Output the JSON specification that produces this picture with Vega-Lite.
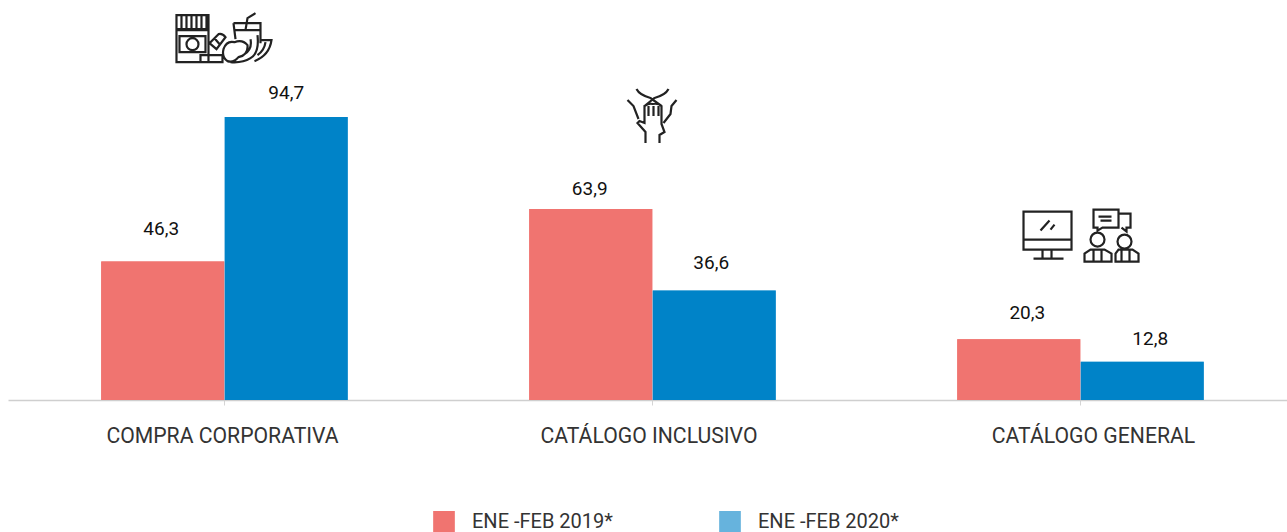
{"$schema":"https://vega.github.io/schema/vega-lite/v6.json","width":1279,"height":400,"autosize":"none","padding":{"left":8,"top":0,"right":0,"bottom":132},"background":"white","config":{"view":{"stroke":null},"font":"Roboto"},"datasets":{"barras":[{"categoria":"COMPRA CORPORATIVA","serie":"ENE -FEB 2019*","valor":46.3,"etiqueta":"46,3"},{"categoria":"COMPRA CORPORATIVA","serie":"ENE -FEB 2020*","valor":94.7,"etiqueta":"94,7"},{"categoria":"CATÁLOGO INCLUSIVO","serie":"ENE -FEB 2019*","valor":63.9,"etiqueta":"63,9"},{"categoria":"CATÁLOGO INCLUSIVO","serie":"ENE -FEB 2020*","valor":36.6,"etiqueta":"36,6"},{"categoria":"CATÁLOGO GENERAL","serie":"ENE -FEB 2019*","valor":20.3,"etiqueta":"20,3"},{"categoria":"CATÁLOGO GENERAL","serie":"ENE -FEB 2020*","valor":12.8,"etiqueta":"12,8"}],"iconos":[{"categoria":"COMPRA CORPORATIVA","icono":"alimentos","nivel":120.7},{"categoria":"CATÁLOGO INCLUSIVO","icono":"mano","nivel":95},{"categoria":"CATÁLOGO GENERAL","icono":"equipo","nivel":55}]},"encoding":{"x":{"field":"categoria","type":"nominal","sort":["COMPRA CORPORATIVA","CATÁLOGO INCLUSIVO","CATÁLOGO GENERAL"],"scale":{"range":[0,1289],"paddingInner":0,"paddingOuter":0.0058},"axis":{"title":null,"labels":false,"domainColor":"#cfcfcf","domainWidth":1.5,"tickColor":"#d5d5d5","tickSize":5}}},"layer":[{"data":{"name":"barras"},"mark":{"type":"bar","width":123},"encoding":{"xOffset":{"field":"serie","type":"nominal","scale":{"paddingInner":0,"paddingOuter":0.733}},"y":{"field":"valor","type":"quantitative","scale":{"domain":[0,133.8],"nice":false},"axis":null},"color":{"field":"serie","type":"nominal","scale":{"range":["#F07470","#66B3DD"]},"legend":{"title":null,"orient":"none","legendX":425,"legendY":511,"direction":"horizontal","columns":2,"columnPadding":106,"symbolType":"square","symbolSize":470,"symbolStrokeWidth":0,"labelFontSize":20,"labelColor":"#333333","labelFont":"Roboto","labelOffset":17,"labelLimit":0,"clipHeight":21}}}},{"data":{"name":"barras"},"mark":{"type":"bar","width":123},"encoding":{"xOffset":{"field":"serie","type":"nominal"},"y":{"field":"valor","type":"quantitative"},"fill":{"field":"serie","type":"nominal","scale":{"range":["#F07470","#0083C8"]},"legend":null}}},{"data":{"name":"barras"},"mark":{"type":"text","fontSize":19,"color":"#111111","font":"Roboto","baseline":"middle","dx":{"expr":"datum.valor===46.3?-1.5:datum.valor===63.9?-1:datum.valor===36.6?-3:datum.valor===20.3?8.5:datum.valor===12.8?8:0"},"dy":{"expr":"datum.valor===46.3?-33:datum.valor===94.7?-24:datum.valor===63.9?-20:datum.valor===36.6?-28:datum.valor===20.3?-26:-23"}},"encoding":{"xOffset":{"field":"serie","type":"nominal"},"y":{"field":"valor","type":"quantitative"},"text":{"field":"etiqueta","type":"nominal"}}},{"data":{"name":"iconos"},"mark":{"type":"text","fontSize":21.2,"color":"#333333","font":"Roboto","baseline":"middle","dy":37,"dx":{"expr":"datum.categoria==='CATÁLOGO GENERAL'?13:datum.categoria==='CATÁLOGO INCLUSIVO'?-3.5:-2"}},"encoding":{"y":{"datum":0,"type":"quantitative"},"text":{"field":"categoria","type":"nominal"}}},{"data":{"name":"iconos"},"mark":{"type":"point","filled":false,"stroke":"#222222","strokeWidth":2.2,"opacity":1,"size":4},"encoding":{"y":{"field":"nivel","type":"quantitative"},"shape":{"field":"icono","type":"nominal","legend":null,"scale":{"domain":["alimentos","mano","equipo"],"range":["M-48,-24H-16V-10H-48ZM-43,-23V-11M-38,-23V-11M-33,-23V-11M-28,-23V-11M-23,-23V-11M-18,-23V-11M-48,-9H-16V23H-48ZM-45,-3H-19V13H-45ZM-26,5A6,6 0 1 1 -38,5A6,6 0 1 1 -26,5ZM-15,4L-6,-5Q-2,-6 1,-2L-8,10ZM-10,-1L-4,6M-24,16H-2V23H-24ZM9,-16H36V4M9,-16L11,0M9,-9H36M21,-9L23,-21L31,-26M-1,10Q2,1 10,3Q18,0 23,6Q24,16 14,18Q9,24 3,22Q-3,18 -1,10ZM33,-4Q35,14 26,19Q18,24 6,23M26,0Q28,10 20,15M36,1H47Q45,16 30,22M41,3Q40,11 33,16","M-7,27V16L-15,7L-13,5L-8,7V-10Q-3,-13 0,-12Q6,-13 9,-10V8L12,16L7,19V27M-4,-10V0M1,-10V0M6,-10V0M-16,-27Q-13,-21 -2,-18L9,-10M16,-27Q13,-21 2,-18L-8,-10M-25,-16L-19,-10L-14,3M24,-16L19,-10L18,-2L11,7","M-57,-24H-9V14H-57ZM-57,4H-9M-38,14V22M-29,14V22M-47,23H-17M-40,-5L-31,-15M-30,-6L-26,-11M13,-26H38V-8H22L17,-5V-8H13ZM38,-22H50V-8H46V-4L41,-8M18,-19H31M20,-15H31M24,4A7,7 0 1 1 10,4A7,7 0 1 1 24,4ZM51,6A7,7 0 1 1 37,6A7,7 0 1 1 51,6ZM4,26V18L10,14H24L31,18V26ZM35,26V18L38,14H52L58,18V26ZM13,15V26M21,15V26M41,15V26M49,15V26"]}}}}]}
